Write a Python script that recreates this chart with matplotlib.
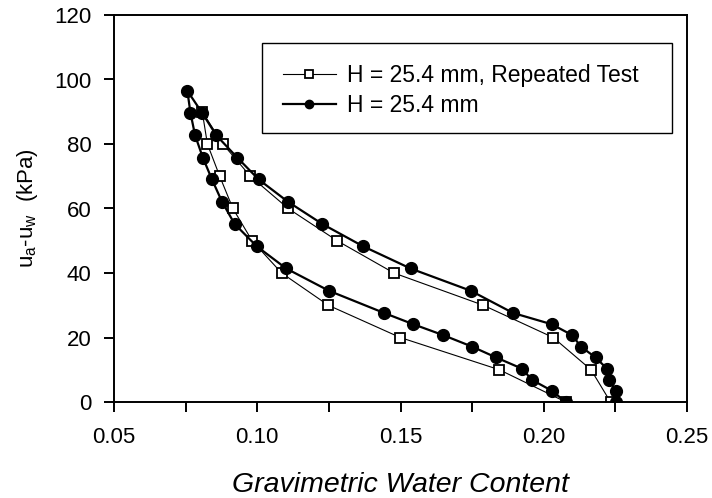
import matplotlib
matplotlib.use("Agg")
import matplotlib.pyplot as plt
from matplotlib.patches import Rectangle
from matplotlib.ticker import MultipleLocator

plt.rcParams["font.family"] = ["Liberation Sans", "DejaVu Sans"]
plt.rcParams["mathtext.fontset"] = "custom"
plt.rcParams["mathtext.rm"] = "Liberation Sans"

# H = 25.4 mm, repeated test (open squares): drying branch then wetting branch
rep_wc = [0.2233, 0.2165, 0.2033, 0.1789, 0.1477, 0.1279, 0.1108, 0.0976, 0.0880, 0.0808,
          0.0826, 0.0869, 0.0915, 0.0982, 0.1085, 0.1248, 0.1499, 0.1845, 0.2077]
rep_suction = [0, 10, 20, 30, 40, 50, 60, 70, 80, 90,
               80, 70, 60, 50, 40, 30, 20, 10, 0]

# H = 25.4 mm (filled circles)
h_wc = [0.2251, 0.2251, 0.2229, 0.2221, 0.2181, 0.2129, 0.2100, 0.2028, 0.1893, 0.1745,
        0.1535, 0.1369, 0.1227, 0.1107, 0.1005, 0.0930, 0.0857, 0.0808, 0.0756,
        0.0767, 0.0783, 0.0810, 0.0842, 0.0877, 0.0921, 0.0998, 0.1101, 0.1250,
        0.1443, 0.1545, 0.1650, 0.1749, 0.1834, 0.1925, 0.1958, 0.2030, 0.2076]
h_suction = [0, 3.4, 6.9, 10.3, 13.8, 17.2, 20.7, 24.1, 27.6, 34.5,
             41.4, 48.3, 55.2, 62.1, 69.0, 75.8, 82.7, 89.6, 96.5,
             89.6, 82.7, 75.8, 69.0, 62.1, 55.2, 48.3, 41.4, 34.5,
             27.6, 24.1, 20.7, 17.2, 13.8, 10.3, 6.9, 3.4, 0]

fig = plt.figure(figsize=(7.12, 4.98), dpi=100)
ax = fig.add_axes([114 / 712, 1 - 402 / 498, (687 - 114) / 712, (402 - 15) / 498])

ax.plot(rep_wc, rep_suction, color="black", lw=0.8, marker="s", ms=7,
        mfc="white", mec="black", mew=1.3, label="H = 25.4 mm, Repeated Test", zorder=2)
ax.plot(h_wc, h_suction, color="black", lw=1.6, marker="o", ms=8.5,
        mfc="black", mec="black", label="H = 25.4 mm", zorder=3)

ax.set_xlim(0.05, 0.25)
ax.set_ylim(0, 120)
ax.xaxis.set_minor_locator(MultipleLocator(0.025))
ax.yaxis.set_major_locator(MultipleLocator(20))
ax.set_xticks([0.05, 0.10, 0.15, 0.20, 0.25])
ax.set_xticklabels(["0.05", "0.10", "0.15", "0.20", "0.25"])
ax.tick_params(which="both", direction="out", length=7.2, width=1.4, labelsize=16,
               top=False, right=False)
ax.tick_params(axis="x", pad=11)
ax.tick_params(axis="y", pad=9)
for s in ax.spines.values():
    s.set_linewidth(1.4)

ax.set_xlabel("Gravimetric Water Content", fontsize=20.5, style="italic", labelpad=17)
ax.set_ylabel(r"u$_\mathregular{a}$-u$_\mathregular{w}$  (kPa)", fontsize=16, labelpad=10)

# legend box drawn separately so its padding matches the original
fig.patches.append(Rectangle((262 / 712, 1 - 133 / 498), 410 / 712, 90 / 498,
                             transform=fig.transFigure, fill=False,
                             edgecolor="black", lw=1.0, zorder=5))
leg = ax.legend(loc="upper left", bbox_to_anchor=(283 / 712, 1 - 64 / 498),
                bbox_transform=fig.transFigure, fontsize=16.5, frameon=False,
                handlelength=2.3, borderpad=0, labelspacing=0.3,
                borderaxespad=0, handletextpad=0.5)
for h in leg.legend_handles:
    h.set_markersize(6)

fig.savefig("out.png", dpi=100)
